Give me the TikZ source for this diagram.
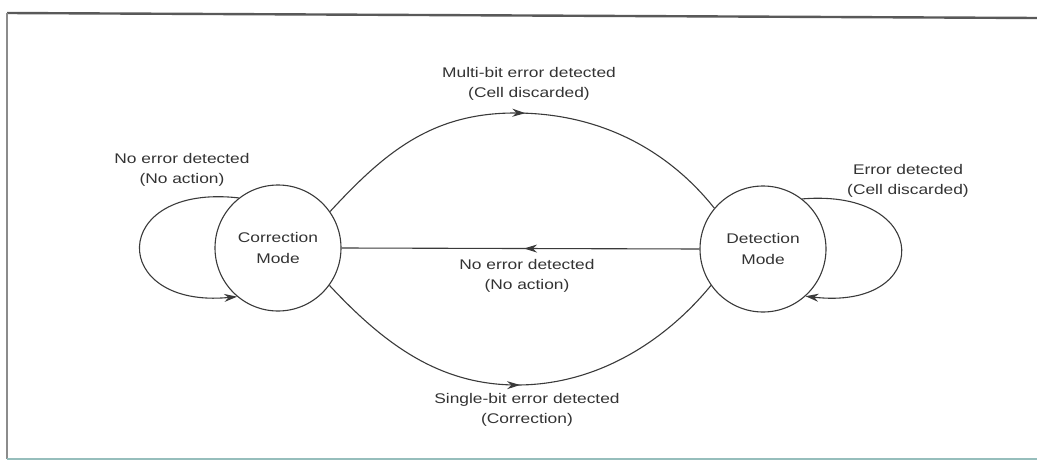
\documentclass[tikz,border=0pt]{standalone}
\usepackage{fontspec}
\setmainfont[FakeStretch=1.24]{Liberation Sans}
\usetikzlibrary{arrows.meta,decorations.markings}
\definecolor{ink}{HTML}{3A3A3A}
\definecolor{txt}{HTML}{333333}
\tikzset{
  state/.style={circle,draw=ink,line width=1.1pt,minimum size=126pt,inner sep=0pt,
                align=center,text=txt,font=\fontsize{14}{21}\selectfont},
  lbl/.style={align=center,text=txt,inner sep=0pt,font=\fontsize{14}{20.5}\selectfont},
  edge/.style={draw=ink,line width=1.1pt},
  midarrow/.style={postaction={decorate},decoration={markings,
     mark=at position #1 with {\arrow{Stealth[length=13pt,width=8pt]}}}},
  tip/.style={-{Stealth[length=13pt,width=8pt]}},
}
\begin{document}
\begin{tikzpicture}[x=1pt,y=-1pt]
\useasboundingbox (0,0) rectangle (1037,463);

% frame
\coordinate (tl) at (7,13);
\coordinate (tr) at (1037,18);
\coordinate (bl) at (7,459);
\coordinate (br) at (1037,459);
\draw[draw=black!65,line width=2.4pt] (tl) -- (tr);
\draw[draw=black!45,line width=2pt] (tl) -- (bl);
\draw[draw={rgb,255:red,150;green,190;blue,188},line width=2pt] (bl) -- (br);

% states
\node[state] (C) at (278,248) {Correction\\Mode};
\node[state] (D) at (763,249) {Detection\\Mode};

% self loops
\draw[edge,tip] (C.128) .. controls (108,183) and (108,309) .. (C.230);
\draw[edge,tip] (D.52) .. controls (933,188) and (933,311) .. (D.-48);

% transitions between the modes
\draw[edge,midarrow=0.51] (C.35) .. controls (385,152) and (432,113) .. (515,113)
   .. controls (600,113) and (668,150) .. (D.140);
\draw[edge,midarrow=0.49] (D.180) -- (C.0);
\draw[edge,midarrow=0.5] (C.-36) .. controls (385,345) and (440,385) .. (517,385)
   .. controls (600,385) and (668,338) .. (D.215);

% labels
\node[lbl] (l1) at (182,170) {No error detected\\(No action)};
\node[lbl] (l2) at (529,84) {Multi-bit error detected\\(Cell discarded)};
\node[lbl] (l3) at (908,181) {Error detected\\(Cell discarded)};
\node[lbl] (l4) at (527,276) {No error detected\\(No action)};
\node[lbl] (l5) at (527,410) {Single-bit error detected\\(Correction)};
\end{tikzpicture}
\end{document}
